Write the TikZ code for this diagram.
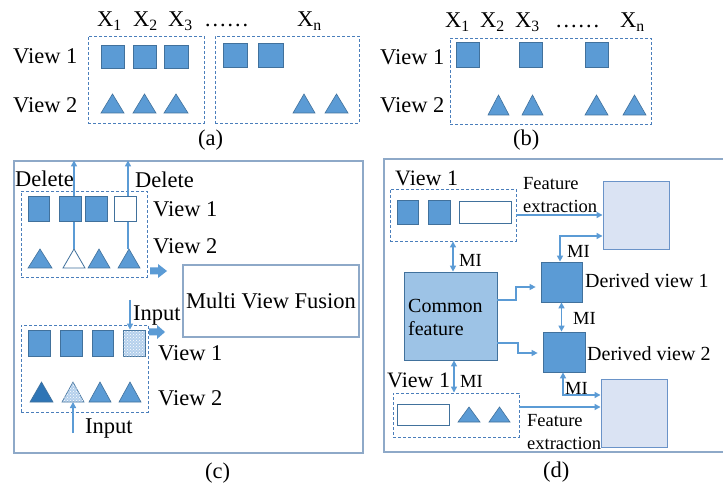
\documentclass[tikz,border=0pt]{standalone}
\usepackage{fontspec}
\setmainfont{Liberation Serif}
\usetikzlibrary{arrows.meta,calc,patterns}

\definecolor{fb}{HTML}{5B9BD5}
\definecolor{eb}{HTML}{41719C}
\definecolor{ab}{HTML}{5B9BD5}
\definecolor{dbc}{HTML}{4A7EBB}
\definecolor{pbc}{HTML}{8EA9C8}
\definecolor{cfc}{HTML}{9DC3E6}
\definecolor{lfc}{HTML}{DAE3F3}
\definecolor{lec}{HTML}{6A93C8}
\definecolor{dkc}{HTML}{2E75B6}
\definecolor{ptc}{HTML}{B4D0EC}

\newcommand\bx[6]{\node[#6, minimum width={(#4-#2)*1pt}, minimum height={(#5-#3)*1pt}] (#1) at ({(#2+#4)/2},{(#3+#5)/2}) {};}
\newcommand\tri[6]{%
  \draw[#6] (#2,#4) -- (#3,#4) -- ({(#2+#3)/2},#5) -- cycle;
  \coordinate (#1-t) at ({(#2+#3)/2},#5);
  \coordinate (#1-b) at ({(#2+#3)/2},#4);}
\newcommand\blockarrow[3]{% x1 x2 cy
  \fill[ab] (#1,{#3-3.5}) -- ({#1+8},{#3-3.5}) -- ({#1+8},{#3-7}) -- (#2,#3) -- ({#1+8},{#3+7}) -- ({#1+8},{#3+3.5}) -- (#1,{#3+3.5}) -- cycle;}

\tikzset{
  sq/.style={draw=eb, fill=fb, line width=0.8pt, inner sep=0pt},
  hollow/.style={draw=eb, fill=white, line width=0.8pt, inner sep=0pt},
  patsq/.style={draw=eb, fill=ptc, line width=0.8pt, inner sep=0pt, postaction={pattern=crosshatch dots, pattern color=white}},
  tr/.style={draw=eb, fill=fb, line width=0.6pt, line join=miter},
  trh/.style={draw=eb, fill=white, line width=0.8pt},
  trp/.style={draw=eb, fill=ptc, line width=0.6pt, postaction={pattern=crosshatch dots, pattern color=white}},
  trd/.style={draw=eb, fill=dkc, line width=0.6pt},
  dbox/.style={draw=dbc, dash pattern=on 3pt off 2pt, line width=0.9pt, inner sep=0pt},
  panel/.style={draw=pbc, line width=1.1pt, inner sep=0pt},
  lightbox/.style={draw=lec, fill=lfc, line width=0.9pt, inner sep=0pt},
  dvbox/.style={draw=eb, fill=fb, line width=0.8pt, inner sep=0pt},
  cfbox/.style={draw=eb, fill=cfc, line width=0.8pt, inner sep=0pt},
  lab/.style={anchor=base west, inner sep=0pt, font=\fontsize{22.5}{24}\selectfont},
  smlab/.style={anchor=base west, inner sep=0pt, font=\fontsize{18.5}{20}\selectfont},
  midlab/.style={anchor=base west, inner sep=0pt, font=\fontsize{20}{22}\selectfont},
  arr/.style={draw=ab, line width=1.4pt, >={Triangle[length=6pt,width=6pt]}},
}

\begin{document}
\begin{tikzpicture}[x=1pt,y=-1pt]
\useasboundingbox (0,0) rectangle (723,486);
\fill[white] (0,0) rectangle (723,486);

% ---------------- Panel (a)
\bx{ad1}{88}{36}{204}{123}{dbox}
\bx{ad2}{215}{36}{359}{123}{dbox}
\bx{a1}{101}{45}{124}{68}{sq}
\bx{a2}{133}{45}{156}{68}{sq}
\bx{a3}{164}{45}{188}{68}{sq}
\bx{a4}{223}{43}{247}{67}{sq}
\bx{a5}{258}{43}{283}{67}{sq}
\tri{at1}{101}{124}{113}{94}{tr}
\tri{at2}{133}{156}{113}{94}{tr}
\tri{at3}{164}{188}{113}{94}{tr}
\tri{at4}{293}{315}{113}{94}{tr}
\tri{at5}{325}{348}{113}{94}{tr}
\node[lab] (av1) at (13,64) {View 1};
\node[lab] (av2) at (13,113) {View 2};
\node[lab] (ax1) at (97,27) {X\textsubscript{1}};
\node[lab] (ax2) at (133,27) {X\textsubscript{2}};
\node[lab] (ax3) at (168,27) {X\textsubscript{3}};
\node[lab] (axd) at (204,27) {……};
\node[lab] (axn) at (297,27) {X\textsubscript{n}};
\node[lab] (acap) at (198,146) {(a)};

% ---------------- Panel (b)
\bx{bd}{450}{38}{651}{124}{dbox}
\bx{b1}{456}{42}{479}{67}{sq}
\bx{b2}{519}{42}{542}{67}{sq}
\bx{b3}{585}{42}{608}{67}{sq}
\tri{bt1}{488}{509}{115}{95}{tr}
\tri{bt2}{522}{543}{115}{95}{tr}
\tri{bt3}{585}{608}{115}{95}{tr}
\tri{bt4}{623}{646}{115}{95}{tr}
\node[lab] (bv1) at (380,65) {View 1};
\node[lab] (bv2) at (380,113) {View 2};
\node[lab] (bx1) at (445,28) {X\textsubscript{1}};
\node[lab] (bx2) at (480,28) {X\textsubscript{2}};
\node[lab] (bx3) at (515,28) {X\textsubscript{3}};
\node[lab] (bxd) at (555,28) {……};
\node[lab] (bxn) at (620,28) {X\textsubscript{n}};
\node[lab] (bcap) at (513,146) {(b)};

% ---------------- Panel (c)
\bx{pc}{14}{161}{363}{453}{panel}
\bx{cd1}{21}{191}{147}{277}{dbox}
\bx{cd2}{21}{325}{148}{412}{dbox}
\tri{ct1}{28}{52}{268}{249}{tr}
\tri{ct2}{63}{85}{268}{249}{trh}
\tri{ct3}{88}{110}{268}{249}{tr}
\tri{ct4}{118}{140}{268}{249}{tr}
\draw[arr,->] (ct2-t) -- (ct2-t |- pc.north);
\draw[arr,->] ($(ct4-t)+(-1,0)$) -- ($(ct4-t |- pc.north)+(-1,0)$);
\bx{cs1}{28}{196}{49}{221}{sq}
\bx{cs2}{59}{196}{81}{221}{sq}
\bx{cs3}{85}{196}{107}{221}{sq}
\bx{cs4}{114}{196}{136}{221}{hollow}
\node[lab] (cdel1) at (15,187) {Delete};
\node[lab] (cdel2) at (135,188) {Delete};
\node[lab] (cv1) at (153,217) {View 1};
\node[lab] (cv2) at (153,254) {View 2};
\blockarrow{150}{167}{271}
\node[panel, minimum width=176pt, minimum height=72pt, font=\fontsize{22.5}{24}\selectfont] (mvf) at (271,301) {Multi View Fusion};
\bx{cs5}{28}{330}{50}{356}{sq}
\bx{cs6}{60}{330}{82}{356}{sq}
\bx{cs7}{92}{330}{113}{356}{sq}
\bx{cs8}{123}{330}{145}{356}{patsq}
\tri{ct5}{30}{53}{402}{382}{trd}
\tri{ct6}{62}{84}{402}{382}{trp}
\tri{ct7}{89}{111}{402}{382}{tr}
\tri{ct8}{119}{141}{402}{382}{tr}
\coordinate (in1) at (130,300);
\draw[arr,->] (in1) -- (in1 |- cs8.north);
\node[lab] (cin1) at (133,321) {Input};
\blockarrow{149}{165}{332}
\node[lab] (cv3) at (158,360) {View 1};
\node[lab] (cv4) at (158,405) {View 2};
\coordinate (in2) at (73,433);
\draw[arr,->] (in2) -- (in2 |- ct6-b);
\node[lab] (cin2) at (85,433) {Input};
\node[lab] (ccap) at (205,478) {(c)};

% ---------------- Panel (d)
\draw[draw=pbc, line width=1.1pt] (724,159) -- (384,159) -- (384,452) -- (724,452);
\bx{dd1}{390}{189}{516}{241}{dbox}
\bx{ds1}{397}{200}{418}{224}{sq}
\bx{ds2}{428}{200}{450}{224}{sq}
\bx{dh1}{459}{201}{511}{223}{hollow}
\bx{L1}{603}{181}{669}{249}{lightbox}
\bx{dv1}{541}{262}{582}{302}{dvbox}
\bx{dv2}{543}{332}{585}{372}{dvbox}
\bx{cf}{404}{272}{497}{360}{cfbox}
\bx{L2}{601}{379}{667}{447}{lightbox}
\bx{dd2}{393}{393}{519}{437}{dbox}
\bx{dh2}{397}{404}{449}{425}{hollow}
\tri{dt1}{458}{480}{422}{407}{tr}
\tri{dt2}{489}{510}{422}{407}{tr}

\node[lab, font=\fontsize{22}{24}\selectfont] (dv1t) at (395,186) {View 1};
\node[smlab] (fe1) at (523,190) {Feature};
\node[smlab] (fe2) at (523,213) {extraction};
\node[midlab] (cft1) at (408,313) {Common};
\node[midlab] (cft2) at (408,336) {feature};
\node[midlab] (dvl1) at (585,288) {Derived view 1};
\node[midlab] (dvl2) at (587,360) {Derived view 2};
\node[lab, font=\fontsize{22}{24}\selectfont] (dv2t) at (387,387) {View 1};
\node[smlab] (fe3) at (527,426) {Feature};
\node[smlab] (fe4) at (527,449) {extraction};

% connectors (d)
\draw[arr,->] (dd1.east) -- (dd1.east -| L1.west);
\draw[arr,<->] (dd1.south) -- (dd1.south |- cf.north);
\coordinate (m1) at (560,236);
\draw[arr,<->] (m1 -| L1.west) -- (m1) -- (m1 |- dv1.north);
\draw[arr,<->] (dv1.south) -- (dv1.south |- dv2.north);
\coordinate (c1) at (516,300);
\coordinate (c2) at (516,287);
\draw[arr,->,shorten >=5pt] (c1 -| cf.east) -- (c1) -- (c2) -- (c2 -| dv1.west);
\coordinate (c3) at (518,343);
\coordinate (c4) at (518,353);
\draw[arr,->,shorten >=5pt] (c3 -| cf.east) -- (c3) -- (c4) -- (c4 -| dv2.west);
\coordinate (c5) at (563,395);
\draw[arr,<->] (c5 |- dv2.south) -- (c5) -- (c5 -| L2.west);
\coordinate (c6) at (454,392);
\draw[arr,<->] (c6 |- cf.south) -- (c6 |- dd2.north);
\coordinate (c7) at (519,407);
\draw[arr,->] (c7) -- (c7 -| L2.west);

\node[smlab] (mi1) at (567,258) {MI};
\node[smlab] (mi2) at (459,267) {MI};
\node[smlab] (mi3) at (573,325) {MI};
\node[smlab] (mi4) at (565,394) {MI};
\node[smlab] (mi5) at (460,387) {MI};
\node[lab] (dcap) at (543,477) {(d)};
\end{tikzpicture}
\end{document}
